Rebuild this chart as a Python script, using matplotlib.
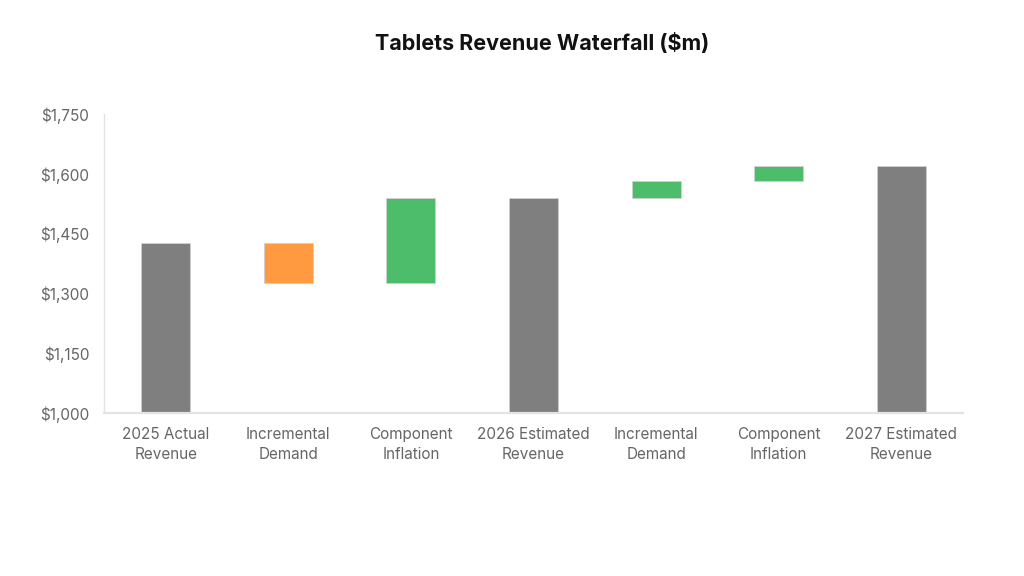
import numpy as np
import matplotlib.pyplot as plt

# chart data ($m)
categories = ["2025 Actual\nRevenue", "Incremental\nDemand", "Component\nInflation",
              "2026 Estimated\nRevenue", "Incremental\nDemand", "Component\nInflation",
              "2027 Estimated\nRevenue"]
amounts = [1427, -100, 213, None, 43, 37, None]   # None = running total bar
y_ticks = [1000, 1150, 1300, 1450, 1600, 1750]

GREY = "#7f7f7f"
GREEN = "#4dbd6c"
ORANGE = "#ff9a40"

plt.rcParams['font.family'] = ['Inter', 'DejaVu Sans']

bottoms, heights, colors = [], [], []
running = 0
for amt in amounts:
    if amt is None or running == 0:
        if amt is not None:
            running = amt
        bottoms.append(1000)
        heights.append(running - 1000)
        colors.append(GREY)
    else:
        start = running
        running += amt
        bottoms.append(min(start, running))
        heights.append(abs(amt))
        colors.append(GREEN if amt > 0 else ORANGE)

fig = plt.figure(figsize=(10.24, 5.76), dpi=100)
ax = fig.add_axes([0.102, 0.2825, 0.838, 0.5195])

x = np.arange(len(categories))
ax.bar(x, heights, bottom=bottoms, width=0.40, color=colors,
       edgecolor="#d0d0d0", linewidth=0.6)

ax.set_xlim(-0.5, len(categories) - 0.5)
ax.set_ylim(1000, 1750)
ax.set_yticks(y_ticks)
ax.set_yticklabels([f"${v:,}" for v in y_ticks])
ax.set_xticks(x)
ax.set_xticklabels(categories, linespacing=1.4)
ax.tick_params(axis='both', length=0, labelsize=11, labelcolor="#666666")
ax.tick_params(axis='x', pad=10)
ax.tick_params(axis='y', pad=11)

for side in ['top', 'right']:
    ax.spines[side].set_visible(False)
ax.spines['left'].set_color("#e3e3e3")
ax.spines['left'].set_linewidth(1.0)
ax.spines['bottom'].set_color("#e3e3e3")
ax.spines['bottom'].set_linewidth(1.6)

fig.text(0.529, 0.925, "Tablets Revenue Waterfall ($m)", ha='center', va='center',
         fontsize=15.5, fontweight='bold', color="#111111")

plt.savefig("out.png", dpi=100)
